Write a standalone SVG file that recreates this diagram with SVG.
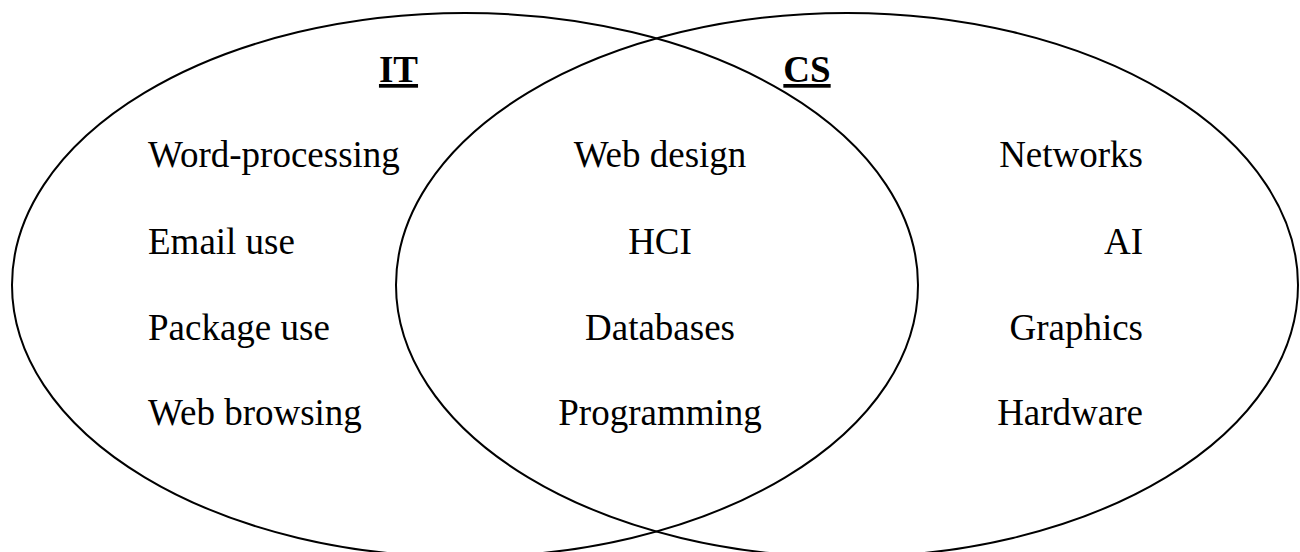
<svg xmlns="http://www.w3.org/2000/svg" width="1300" height="552" viewBox="0 0 1300 552">
<style>
.e{fill:none;stroke:#000;stroke-width:2}
text{font-family:"Liberation Serif","Times New Roman",serif;font-size:37px;fill:#000}
.h{font-weight:bold;text-decoration:underline;text-anchor:middle}
.l{text-anchor:start}
.m{text-anchor:middle}
.r{text-anchor:end}
</style>
<rect width="1300" height="552" fill="#fff"/>
<g id="set-it"><ellipse class="e" cx="465" cy="285" rx="453" ry="272"/></g>
<g id="set-cs"><ellipse class="e" cx="847" cy="285" rx="451" ry="272"/></g>
<g id="label-it"><text class="h" x="398.5" y="82">IT</text></g>
<g id="label-cs"><text class="h" x="807" y="82">CS</text></g>
<g id="it-items">
<text class="l" x="148" y="167">Word-processing</text>
<text class="l" x="148" y="254">Email use</text>
<text class="l" x="148" y="340">Package use</text>
<text class="l" x="148" y="425">Web browsing</text>
</g>
<g id="both-items">
<text class="m" x="660" y="167">Web design</text>
<text class="m" x="660" y="254">HCI</text>
<text class="m" x="660" y="340">Databases</text>
<text class="m" x="660" y="425">Programming</text>
</g>
<g id="cs-items">
<text class="r" x="1143" y="167">Networks</text>
<text class="r" x="1143" y="254">AI</text>
<text class="r" x="1143" y="340">Graphics</text>
<text class="r" x="1143" y="425">Hardware</text>
</g>
</svg>
